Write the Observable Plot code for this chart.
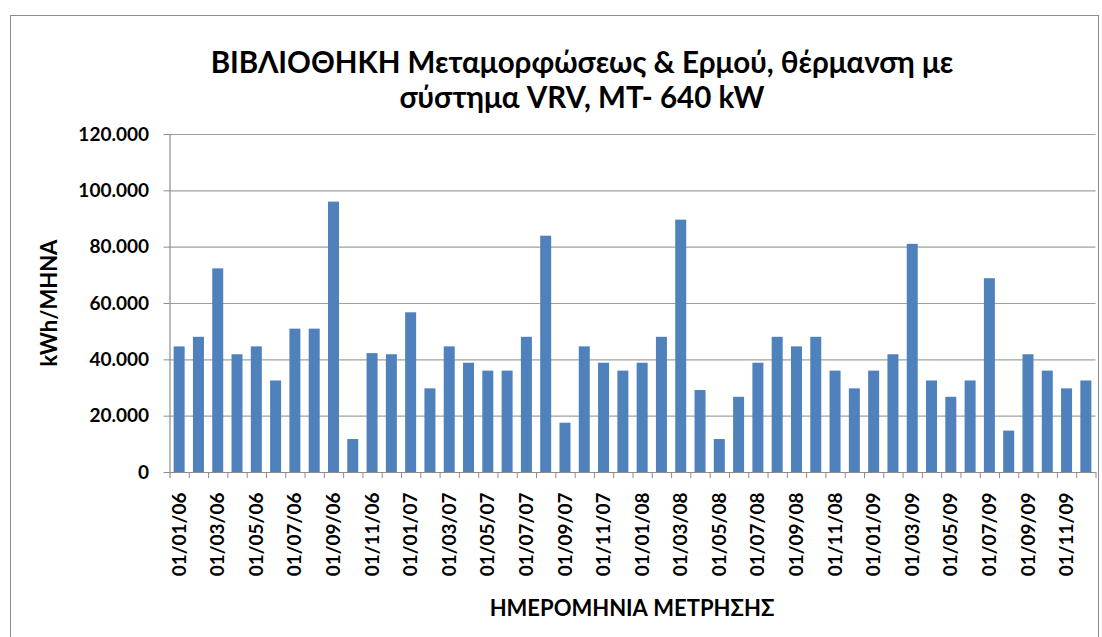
<!DOCTYPE html>
<html>
<head>
<meta charset="utf-8">
<script src="https://cdn.jsdelivr.net/npm/d3@7"></script>
<script src="https://cdn.jsdelivr.net/npm/@observablehq/plot@0.6"></script>
<style>
  html, body { margin: 0; padding: 0; background: #fff; }
  #wrap { position: relative; width: 1102px; height: 637px; overflow: hidden; font-family: Lato, "Open Sans", sans-serif; }
  #border { position: absolute; left: 10px; top: 15px; width: 1089px; height: 640px; border: 1px solid #8c8c8c; box-sizing: border-box; }
  .t { position: absolute; font-weight: bold; color: #000; white-space: nowrap; text-align: center; }
  #title { left: 0; width: 1164px; top: 44px; font-size: 29.5px; line-height: 35px; }
  #xtitle { left: 0; width: 1264px; top: 594px; font-size: 22px; }
  #ytitle { left: 48px; top: 303px; font-size: 22px; transform: translate(-50%, -50%) rotate(-90deg); }
  #chart { position: absolute; left: 0; top: 0; }
</style>
</head>
<body>
<div id="wrap">
  <div id="border"></div>
  <div id="chart"></div>
  <div class="t" id="title">ΒΙΒΛΙΟΘΗΚΗ Μεταμορφώσεως &amp; Ερμού, θέρμανση με<br>σύστημα VRV, ΜΤ- 640 kW</div>
  <div class="t" id="ytitle">kWh/ΜΗΝΑ</div>
  <div class="t" id="xtitle">ΗΜΕΡΟΜΗΝΙΑ ΜΕΤΡΗΣΗΣ</div>
</div>
<script>
const months = [
  "01/01/06","01/02/06","01/03/06","01/04/06","01/05/06","01/06/06","01/07/06","01/08/06","01/09/06","01/10/06","01/11/06","01/12/06",
  "01/01/07","01/02/07","01/03/07","01/04/07","01/05/07","01/06/07","01/07/07","01/08/07","01/09/07","01/10/07","01/11/07","01/12/07",
  "01/01/08","01/02/08","01/03/08","01/04/08","01/05/08","01/06/08","01/07/08","01/08/08","01/09/08","01/10/08","01/11/08","01/12/08",
  "01/01/09","01/02/09","01/03/09","01/04/09","01/05/09","01/06/09","01/07/09","01/08/09","01/09/09","01/10/09","01/11/09","01/12/09"
];
const kwh = [
  44600, 48000, 72300, 41800, 44600, 32500, 50900, 50900, 96000, 11700, 42200, 41800,
  56700, 29700, 44600, 38800, 36000, 36000, 48000, 83900, 17500, 44600, 38800, 36000,
  38800, 48000, 89600, 29100, 11700, 26700, 38800, 48000, 44600, 48000, 36000, 29700,
  36000, 41800, 81000, 32500, 26700, 32500, 68800, 14700, 41800, 36000, 29700, 32500
];
const yTicks = [0, 20000, 40000, 60000, 80000, 100000, 120000];
const labelMonths = months.filter((d, i) => i % 2 === 0);

const data = months.map((m, i) => ({month: m, value: kwh[i]}));

const W = 1102, H = 637;
const mL = 169.5, mR = 6.5, mT = 134, mB = 165;
const step = (W - mL - mR) / months.length;
const fmt = v => v === 0 ? "0" : d3.format(",")(v).replace(/,/g, ".");

const chart = Plot.plot({
  width: W,
  height: H,
  marginLeft: mL,
  marginRight: mR,
  marginTop: mT,
  marginBottom: mB,
  style: {fontFamily: "Lato, 'Open Sans', sans-serif", background: "transparent", color: "#000"},
  x: {domain: months, paddingInner: 0.43, paddingOuter: 0.215, round: false, label: null},
  y: {domain: [0, 120000], label: null},
  marks: [
    Plot.gridY(yTicks, {stroke: "#a0a0a0", strokeOpacity: 1, strokeWidth: 1.2}),
    Plot.barY(data, {x: "month", y: "value", fill: "#4F81BD"}),
    Plot.ruleY([0], {stroke: "#8c8c8c", strokeWidth: 1.2}),
    Plot.ruleX([months[0]], {dx: -step / 2, stroke: "#8c8c8c", strokeWidth: 1.2, insetBottom: -6}),
    Plot.axisY(yTicks, {tickSize: 6, tickPadding: 15, tickFormat: fmt, fontSize: 19, fontWeight: "bold", stroke: "#8c8c8c", fill: "#000", label: null}),
    Plot.axisX(months, {tickSize: 6, tickFormat: () => "", dx: step / 2, stroke: "#8c8c8c", label: null}),
    Plot.axisX(labelMonths, {tickSize: 0, tickPadding: 20, tickRotate: -90, fontSize: 19, fontWeight: "bold", fill: "#000", label: null})
  ]
});
document.getElementById("chart").appendChild(chart);
</script>
</body>
</html>
